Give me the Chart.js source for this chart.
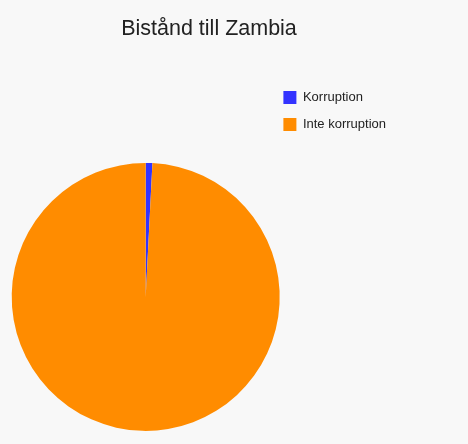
<!DOCTYPE html>
<html>
<head>
<meta charset="utf-8">
<script src="https://cdn.jsdelivr.net/npm/chart.js@4.4.1/dist/chart.umd.min.js"></script>
<style>
  html, body { margin: 0; padding: 0; background: #f8f8f8; }
  #wrap { width: 468px; height: 444px; }
</style>
</head>
<body>
<div id="wrap"><canvas id="chart"></canvas></div>
<script>
const labels = ['Korruption', 'Inte korruption'];
const values = [0.8, 99.2];
const colors = ['#3333ff', '#ff8c00'];

const font = 'Liberation Sans, Arial, sans-serif';

const ctx = document.getElementById('chart').getContext('2d');
const chart = new Chart(ctx, {
  type: 'pie',
  data: {
    labels: labels,
    datasets: [{
      data: values,
      backgroundColor: colors,
      borderWidth: 0,
      radius: 134
    }]
  },
  options: {
    responsive: true,
    maintainAspectRatio: false,
    animation: false,
    // top padding puts the legend high up, the title pulls itself back to the top
    // with a negative padding and pushes the pie down with a big bottom one
    layout: {
      padding: { left: 22, right: 72, top: 77, bottom: 0 }
    },
    plugins: {
      title: {
        display: true,
        text: 'Bistånd till Zambia',
        color: '#222',
        font: { family: font, size: 21.5, weight: 'normal' },
        padding: { top: -61, bottom: 108 }
      },
      legend: {
        position: 'right',
        align: 'start',
        labels: {
          boxWidth: 13,
          boxHeight: 13,
          padding: 14,
          color: '#222',
          font: { family: font, size: 13 }
        }
      },
      tooltip: { enabled: false }
    }
  }
});
</script>
</body>
</html>
